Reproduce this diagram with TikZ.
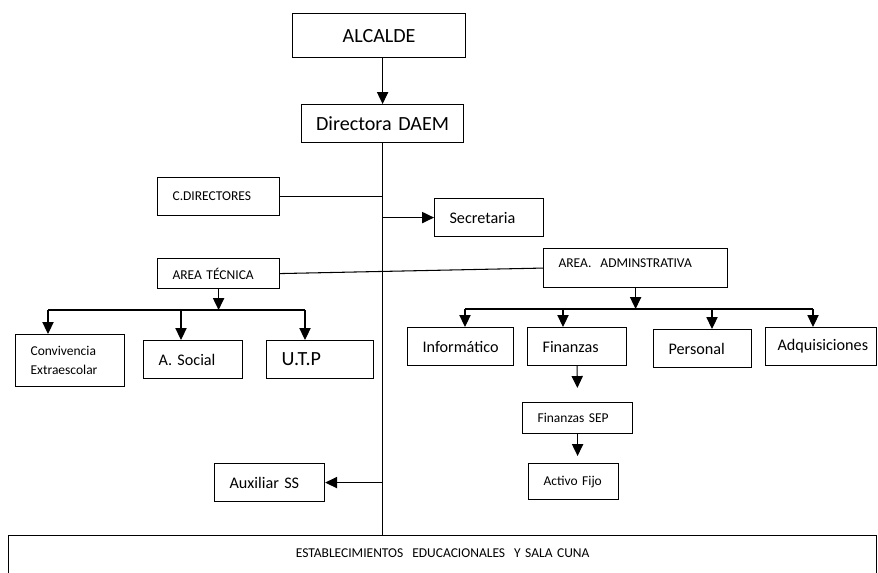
\documentclass[tikz,border=0pt]{standalone}
\usepackage{fontspec}
\setmainfont{Carlito}
\usepackage{tikz}
\usetikzlibrary{arrows.meta,calc}

\newcommand{\smallf}{\fontsize{9.6}{13.5}\selectfont}
\newcommand{\medf}{\fontsize{11.5}{14}\selectfont}
\newcommand{\bigf}{\fontsize{14.3}{17}\selectfont}
\frenchspacing

\tikzset{
  box/.style={draw, line width=0.8pt, anchor=north west, align=left, inner xsep=0.375cm},
  arr/.style={line width=0.75pt, -{Triangle[width=8pt,length=8.5pt]}},
  wire/.style={line width=0.75pt}
}

\begin{document}
\begin{tikzpicture}[x=0.025cm, y=-0.025cm]
\useasboundingbox (0,0) rectangle (878,572);

% top
\node[box, align=center, text width=3.575cm, minimum height=1.1cm, font=\bigf] (alcalde) at (292,13) {ALCALDE};
\node[box, align=center, inner xsep=0.1cm, text width=3.85cm, minimum height=0.95cm, font=\bigf] (daem) at (301,104) {Directora DAEM};

% left side
\node[box, text width=2.3cm, minimum height=0.95cm, font=\smallf] (cdir) at (157,177) {C.DIRECTORES};
\node[box, text width=2.3cm, minimum height=0.75cm, font=\smallf] (atec) at (157,258) {AREA TÉCNICA};
\node[box, text width=1.975cm, minimum height=1.3cm, font=\smallf] (conv) at (15,334) {Convivencia\\Extraescolar};
\node[box, text width=1.725cm, minimum height=0.95cm, font=\medf] (asoc) at (143,340) {A. Social};
\node[box, text width=1.925cm, minimum height=0.95cm, font=\bigf] (utp) at (266,340) {U.T.P};
\node[box, text width=2.0cm, minimum height=0.95cm, font=\medf] (auxil) at (214,463) {Auxiliar SS};

% right side
\node[box, text width=1.975cm, minimum height=0.95cm, font=\medf] (secre) at (434,198) {Secretaria};
\node[box, text width=3.85cm, inner ysep=0pt, text height=0.475cm, text depth=0.5cm, font=\smallf] (aadm) at (543,248) {AREA.\ \ ADMINSTRATIVA};
\node[box, text width=1.9cm, minimum height=0.95cm, font=\medf] (infor) at (407,327) {Informático};
\node[box, text width=1.725cm, minimum height=0.95cm, font=\medf] (finan) at (527,327) {Finanzas};
\node[box, text width=1.7cm, minimum height=0.95cm, font=\medf] (perso) at (653,329) {Personal};
\node[box, inner xsep=0.3cm, text width=2.175cm, minimum height=0.95cm, font=\medf] (adqui) at (765,327) {Adquisiciones};
\node[box, text width=2.0cm, minimum height=0.775cm, font=\smallf] (fsep) at (522,402) {Finanzas SEP};
\node[box, text width=1.5cm, minimum height=0.9cm, font=\smallf] (activo) at (528,463) {Activo Fijo};

% bottom
\node[box, align=center, inner xsep=0pt, inner ysep=0pt, text width=21.7cm, text height=0.55cm, text depth=0.45cm, font=\smallf] (estab) at (8,535) {ESTABLECIMIENTOS\ \ EDUCACIONALES\ \ Y SALA CUNA};

% main line
\draw[arr] (alcalde.south -| daem.south) -- (daem.north);
\draw[wire] (daem.south) -- (daem.south |- estab.north);
\draw[wire] (cdir.east) -- (cdir.east -| daem.south);
\draw[arr] (secre.west -| daem.south) -- (secre.west);
\draw[arr] (auxil.east -| daem.south) -- (auxil.east);
\draw[wire] (atec.east) -- (aadm.west);

% area tecnica
\coordinate (tb1) at (48,310);
\coordinate (tb2) at (181,310);
\coordinate (tb3) at (305,310);
\draw[arr] (atec.south) -- (atec.south |- tb1);
\draw[wire] (tb1) -- (tb3);
\draw[arr] (tb1) -- (tb1 |- conv.north);
\draw[arr] (tb2) -- (tb2 |- asoc.north);
\draw[arr] (tb3) -- (tb3 |- utp.north);

% area administrativa
\coordinate (ab1) at (465,309);
\coordinate (ab2) at (563,309);
\coordinate (ab3) at (712,309);
\coordinate (ab4) at (813,309);
\draw[arr] (aadm.south) -- (aadm.south |- ab1);
\draw[wire] (ab1) -- (ab4);
\draw[arr] (ab1) -- (ab1 |- infor.north);
\draw[arr] (ab2) -- (ab2 |- finan.north);
\draw[arr] (ab3) -- (ab3 |- perso.north);
\draw[arr] (ab4) -- (ab4 |- adqui.north);

% finanzas
\draw[arr, shorten >=0.35cm] (finan.south) -- (fsep.north);
\draw[arr, shorten >=0.175cm] (fsep.south) -- (fsep.south |- activo.north);

\end{tikzpicture}
\end{document}
